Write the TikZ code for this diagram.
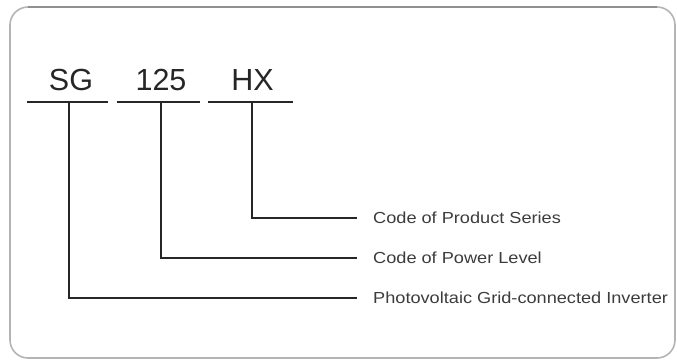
\documentclass[tikz,border=0pt]{standalone}
\usepackage{fontspec}
\setmainfont{Liberation Sans}
\definecolor{ink}{HTML}{262626}
\definecolor{frame}{HTML}{B4B4B4}
\tikzset{
  code/.style={anchor=base, inner sep=0pt, text=ink, font=\fontsize{30.5}{34}\selectfont},
  desc/.style={anchor=west, inner sep=0pt, text=ink!90, font=\fontsize{16}{18}\selectfont},
  wire/.style={draw=ink, line width=1.8pt},
  uline/.style={draw=ink, line width=2pt},
}
\newcommand{\wide}[1]{\scalebox{1.135}[1]{#1}}
\begin{document}
\begin{tikzpicture}[x=1pt,y=-1pt]
\useasboundingbox (0,0) rectangle (677,362);
% frame
\draw[frame, line width=1.6pt, rounded corners=18pt] (10,7) rectangle (675,358);
\draw[frame!80!black, line width=1.6pt] (28,7) -- (657,7);
% codes
\node[code] (sg) at (71,90) {SG};
\node[code] (pl) at (161,90) {125};
\node[code] (hx) at (252.5,90) {HX};
% underlines
\coordinate (sgl) at (27,102);  \coordinate (sgr) at (108,102);
\coordinate (pll) at (117,102); \coordinate (plr) at (200,102);
\coordinate (hxl) at (208,102); \coordinate (hxr) at (293,102);
\draw[uline] (sgl) -- (sgr);
\draw[uline] (pll) -- (plr);
\draw[uline] (hxl) -- (hxr);
\coordinate (sgd) at (69,102);
\coordinate (pld) at (161,102);
\coordinate (hxd) at (252,102);
% descriptions
\node[desc] (dhx) at (373,218) {\wide{Code of Product Series}};
\node[desc] (dpl) at (373,258) {\wide{Code of Power Level}};
\node[desc] (dsg) at (373,298) {\wide{Photovoltaic Grid-connected Inverter}};
% connectors
\draw[wire] (hxd) |- ([xshift=-16pt]dhx.west);
\draw[wire] (pld) |- ([xshift=-16pt]dpl.west);
\draw[wire] (sgd) |- ([xshift=-16pt]dsg.west);
\end{tikzpicture}
\end{document}
